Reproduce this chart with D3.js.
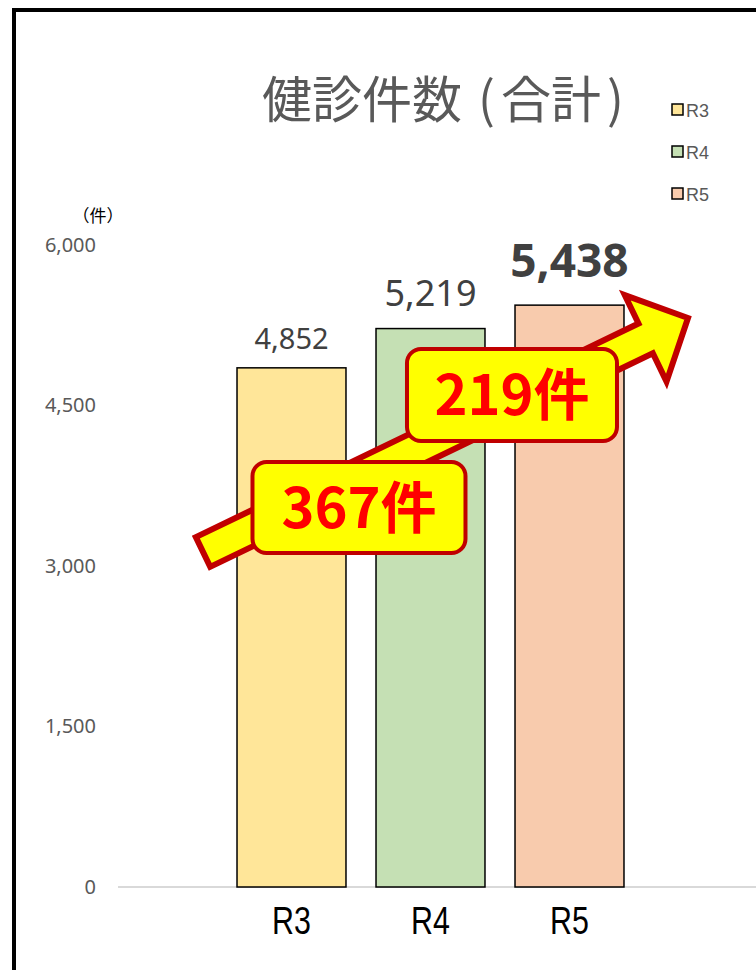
<!DOCTYPE html>
<html>
<head>
<meta charset="utf-8">
<script src="https://cdn.jsdelivr.net/npm/d3@7"></script>
<style>
  html, body { margin: 0; padding: 0; background: #fff; }
  svg { display: block; }
</style>
</head>
<body>
<svg id="chart" width="756" height="970"></svg>
<script>
// data
const categories = ["R3", "R4", "R5"];
const counts = [4852, 5219, 5438];
const colors = ["#FFE699", "#C5E0B4", "#F8CBAD"];
const yTicks = [0, 1500, 3000, 4500, 6000];
const titleParts = ["健診件数", "(", "合計", ")"];
const unitLabel = "（件）";

const svg = d3.select("#chart");
const numFont = "'Noto Sans', 'Open Sans', sans-serif";
const cjkFont = "'Noto Sans CJK JP', 'Noto Sans', sans-serif";
const narrowFont = "'Liberation Sans', sans-serif";

// outer frame (runs off the right/bottom edge like the source)
svg.append("rect")
  .attr("x", 14).attr("y", 10)
  .attr("width", 800).attr("height", 1000)
  .attr("fill", "none").attr("stroke", "#000").attr("stroke-width", 4);

const x = d3.scaleBand()
  .domain(categories)
  .range([152.5, 708.5])
  .paddingInner(0.216)
  .paddingOuter(0.608);

const y = d3.scaleLinear()
  .domain([0, 6000])
  .range([887, 245]);

// baseline
svg.append("line")
  .attr("x1", 118).attr("x2", 756)
  .attr("y1", y(0)).attr("y2", y(0))
  .attr("stroke", "#d9d9d9").attr("stroke-width", 2);

// y axis labels
const yAxis = d3.axisLeft(y).tickValues(yTicks).tickFormat(d3.format(",")).tickSize(0).tickPadding(0);
const gy = svg.append("g").attr("transform", "translate(96,0)").call(yAxis);
gy.select(".domain").remove();
gy.selectAll("text")
  .attr("fill", "#595959")
  .style("font-family", numFont)
  .style("font-size", "20px");

svg.append("text")
  .attr("x", 98).attr("y", 222)
  .attr("text-anchor", "middle")
  .style("font-family", cjkFont)
  .style("font-size", "17px")
  .attr("fill", "#000")
  .text(unitLabel);

// x axis labels (condensed look)
const xAxis = d3.axisBottom(x).tickSize(0).tickPadding(0);
const gx = svg.append("g").attr("transform", `translate(0,${y(0)})`).call(xAxis);
gx.select(".domain").remove();
gx.selectAll(".tick text")
  .attr("fill", "#000")
  .attr("y", 0).attr("dy", 0)
  .attr("transform", "translate(0,47) scale(0.8,1)")
  .style("font-family", narrowFont)
  .style("font-size", "38px");

// bars
const data = categories.map((c, i) => ({ cat: c, value: counts[i], color: colors[i] }));
svg.selectAll(".bar")
  .data(data)
  .join("rect")
  .attr("class", "bar")
  .attr("x", d => x(d.cat))
  .attr("y", d => y(d.value))
  .attr("width", x.bandwidth())
  .attr("height", d => y(0) - y(d.value))
  .attr("fill", d => d.color)
  .attr("stroke", "#000")
  .attr("stroke-width", 1.5);

// value labels (last one emphasised)
const labelStyle = [
  { size: 29, weight: 400, gap: 19 },
  { size: 36, weight: 400, gap: 23 },
  { size: 46, weight: 700, gap: 28 }
];
svg.selectAll(".val")
  .data(data)
  .join("text")
  .attr("class", "val")
  .attr("x", d => x(d.cat) + x.bandwidth() / 2)
  .attr("y", (d, i) => y(d.value) - labelStyle[i].gap)
  .attr("text-anchor", "middle")
  .attr("fill", "#404040")
  .style("font-family", numFont)
  .style("font-size", (d, i) => labelStyle[i].size + "px")
  .style("font-weight", (d, i) => labelStyle[i].weight)
  .text(d => d3.format(",")(d.value));

// growth arrow
const tail = [x("R3") - 34, y(3131)];
const tip = [x("R5") + x.bandwidth() + 64, y(5318)];
const dx = tip[0] - tail[0], dy = tip[1] - tail[1];
const len = Math.hypot(dx, dy);
const u = [dx / len, dy / len], n = [-u[1], u[0]];
const shaftW = 33, headW = 96, headL = 47;
const pt = (along, side) => [tail[0] + u[0] * along + n[0] * side, tail[1] + u[1] * along + n[1] * side];
const arrowPts = [
  pt(0, -shaftW / 2), pt(len - headL, -shaftW / 2), pt(len - headL, -headW / 2),
  pt(len, 0),
  pt(len - headL, headW / 2), pt(len - headL, shaftW / 2), pt(0, shaftW / 2)
];
svg.append("path")
  .attr("d", d3.line()(arrowPts) + "Z")
  .attr("fill", "#FFFF00")
  .attr("stroke", "#C00000")
  .attr("stroke-width", 6)
  .attr("stroke-linejoin", "miter");

// difference callouts
const diffs = [
  { text: (counts[1] - counts[0]) + "件", cx: x("R3") + x.bandwidth() + 13, cy: y(3547), w: 213, h: 91 },
  { text: (counts[2] - counts[1]) + "件", cx: x("R4") + x.bandwidth() + 27, cy: y(4598), w: 210, h: 92 }
];
const callout = svg.selectAll(".callout").data(diffs).join("g").attr("class", "callout");
callout.append("rect")
  .attr("x", d => d.cx - d.w / 2)
  .attr("y", d => d.cy - d.h / 2)
  .attr("width", d => d.w).attr("height", d => d.h)
  .attr("rx", 14)
  .attr("fill", "#FFFF00")
  .attr("stroke", "#C00000")
  .attr("stroke-width", 4);
callout.append("text")
  .attr("x", d => d.cx)
  .attr("y", d => d.cy)
  .attr("dy", "0.36em")
  .attr("text-anchor", "middle")
  .attr("fill", "#FF0000")
  .style("font-family", cjkFont)
  .style("font-weight", 700)
  .style("font-size", "56px")
  .text(d => d.text);

// title: half-width brackets spaced out like the source
const titleDx = [0, 16, 6, 6];
const title = svg.append("text")
  .attr("x", 262).attr("y", 118)
  .attr("fill", "#595959")
  .style("font-family", cjkFont)
  .style("font-size", "50px");
title.selectAll("tspan")
  .data(titleParts)
  .join("tspan")
  .attr("dx", (d, i) => titleDx[i])
  .text(d => d);

// legend
const legend = svg.selectAll(".legend")
  .data(data)
  .join("g")
  .attr("class", "legend")
  .attr("transform", (d, i) => `translate(672,${104 + i * 42})`);
legend.append("rect")
  .attr("width", 11).attr("height", 11)
  .attr("fill", d => d.color)
  .attr("stroke", "#000").attr("stroke-width", 1.5);
legend.append("text")
  .attr("x", 14).attr("y", 12.5)
  .attr("fill", "#595959")
  .style("font-family", narrowFont)
  .style("font-size", "18px")
  .text(d => d.cat);
</script>
</body>
</html>
